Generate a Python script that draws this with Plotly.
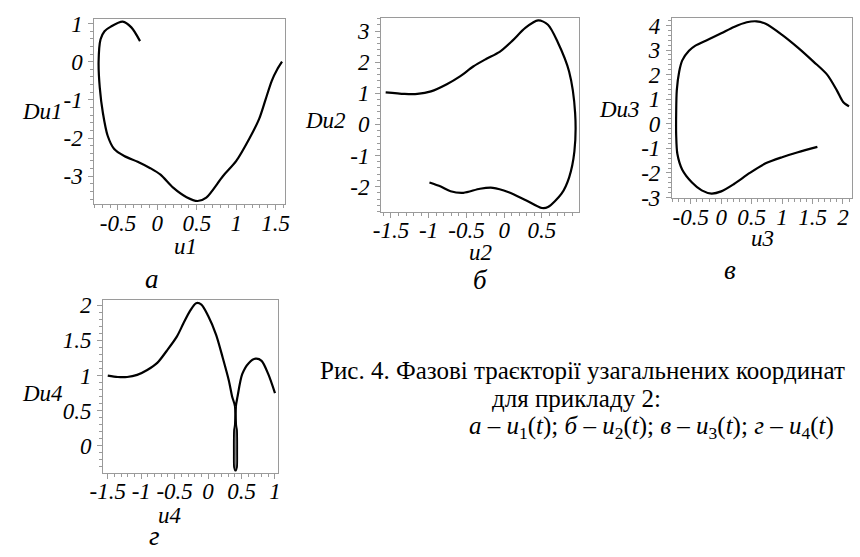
import plotly.graph_objects as go

W, H = 860, 557

# ---- data ----
u1 = [1.58, 1.52, 1.45, 1.37, 1.29, 1.17, 1.00, 0.83, 0.62, 0.51, 0.37, 0.20, 0.04, -0.09, -0.25, -0.42, -0.55, -0.63, -0.69, -0.73, -0.745, -0.72, -0.67, -0.59, -0.44, -0.33, -0.22]
Du1 = [0.00, -0.20, -0.50, -1.00, -1.50, -2.00, -2.60, -3.00, -3.56, -3.65, -3.55, -3.30, -2.96, -2.79, -2.62, -2.47, -2.28, -1.94, -1.35, -0.68, 0.00, 0.59, 0.80, 0.92, 1.05, 0.90, 0.54]

u2 = [-1.57, -1.32, -1.15, -0.97, -0.76, -0.58, -0.41, -0.24, -0.06, 0.11, 0.28, 0.45, 0.58, 0.71, 0.86, 0.94, 0.93, 0.86, 0.76, 0.58, 0.50, 0.28, 0.06, -0.15, -0.32, -0.54, -0.71, -0.84, -0.99]
Du2 = [1.03, 0.98, 0.98, 1.06, 1.29, 1.55, 1.86, 2.10, 2.33, 2.69, 3.10, 3.34, 3.20, 2.64, 1.70, 0.36, -0.88, -1.71, -2.23, -2.66, -2.69, -2.43, -2.18, -2.04, -2.07, -2.20, -2.15, -2.00, -1.87]

u3 = [2.10, 2.00, 1.90, 1.74, 1.52, 1.26, 1.00, 0.73, 0.58, 0.42, 0.21, 0.00, -0.22, -0.43, -0.53, -0.64, -0.69, -0.73, -0.74, -0.74, -0.72, -0.64, -0.48, -0.32, -0.16, 0.00, 0.21, 0.47, 0.73, 1.00, 1.26, 1.58]
Du3 = [0.71, 0.90, 1.36, 2.00, 2.52, 3.10, 3.62, 4.07, 4.17, 4.13, 3.94, 3.68, 3.42, 3.17, 2.97, 2.58, 2.13, 1.36, 0.45, -0.45, -1.23, -1.87, -2.39, -2.71, -2.84, -2.75, -2.45, -2.00, -1.61, -1.36, -1.16, -0.94]

# u4: left arc, narrow spike loop near u4 = 0.41, right arc
u4_left = [-1.50, -1.35, -1.21, -1.06, -0.91, -0.76, -0.62, -0.47, -0.37, -0.27, -0.18, -0.10, 0.00, 0.12, 0.22, 0.31, 0.36]
Du4_left = [1.00, 0.98, 0.98, 1.01, 1.08, 1.18, 1.35, 1.55, 1.74, 1.92, 2.03, 2.01, 1.85, 1.58, 1.25, 0.93, 0.70]
u4_spike = [0.403, 0.403, 0.392, 0.388, 0.392, 0.410, 0.428, 0.432, 0.428, 0.417, 0.415]
Du4_spike = [0.56, 0.30, 0.22, -0.10, -0.30, -0.35, -0.30, -0.10, 0.22, 0.30, 0.56]
u4_right = [0.44, 0.51, 0.61, 0.71, 0.80, 0.90, 1.00]
Du4_right = [0.70, 1.02, 1.18, 1.24, 1.21, 1.02, 0.75]

# tick labels
x1_ticks = [-0.5, 0, 0.5, 1, 1.5]
x1_text = ["-0.5", "0", "0.5", "1", "1.5"]
y1_ticks = [1, 0, -1, -2, -3]
y1_text = ["1", "0", "-1", "-2", "-3"]
x2_ticks = [-1.5, -1, -0.5, 0, 0.5]
x2_text = ["-1.5", "-1", "-0.5", "0", "0.5"]
y2_ticks = [3, 2, 1, 0, -1, -2]
y2_text = ["3", "2", "1", "0", "-1", "-2"]
x3_ticks = [-0.5, 0, 0.5, 1, 1.5, 2]
x3_text = ["-0.5", "0", "0.5", "1", "1.5", "2"]
y3_ticks = [4, 3, 2, 1, 0, -1, -2, -3]
y3_text = ["4", "3", "2", "1", "0", "-1", "-2", "-3"]
x4_ticks = [-1.5, -1, -0.5, 0, 0.5, 1]
x4_text = ["-1.5", "-1", "-0.5", "0", "0.5", "1"]
y4_ticks = [2, 1.5, 1, 0.5, 0]
y4_text = ["2", "1.5", "1", "0.5", "0"]

SERIF = "Liberation Serif"
FRAME = "#9a9a9a"
LINE = dict(color="black", width=2.2, shape="spline", smoothing=0.8)

fig = go.Figure()
series = [(u1, Du1, "x", "y"), (u2, Du2, "x2", "y2"), (u3, Du3, "x3", "y3"),
          (u4_left + u4_spike + u4_right, Du4_left + Du4_spike + Du4_right, "x4", "y4")]
for xs, ys, xa, ya in series:
    fig.add_trace(go.Scatter(x=xs, y=ys, xaxis=xa, yaxis=ya, mode="lines", line=LINE,
                             showlegend=False, hoverinfo="skip"))
# grey interior of the narrow spike loop
fig.add_trace(go.Scatter(x=u4_spike, y=Du4_spike, xaxis="x4", yaxis="y4", mode="lines",
                         fill="toself", fillcolor="#808080",
                         line=dict(color="black", width=1.2, shape="spline"),
                         showlegend=False, hoverinfo="skip"))


def px(x):
    return x / W


def py(y):
    return 1 - y / H


def ital(lst):
    return ["<i>%s</i>" % s for s in lst]


def xax(domain, rng, tv, tt, minor):
    return dict(domain=[px(domain[0]), px(domain[1])], range=rng, tickvals=tv, ticktext=ital(tt),
                showline=True, mirror=True, linecolor=FRAME, linewidth=1,
                ticks="outside", ticklen=5, tickcolor=FRAME, tickwidth=1,
                minor=dict(ticks="outside", ticklen=3, tickcolor=FRAME, dtick=minor, showgrid=False),
                showgrid=False, zeroline=False, fixedrange=True, ticklabelstandoff=-7,
                tickfont=dict(family=SERIF, size=23, color="black"))


def yax(domain, rng, tv, tt, minor, anchor):
    d = xax((0, 1), rng, tv, tt, minor)
    d["domain"] = [py(domain[1]), py(domain[0])]
    d["anchor"] = anchor
    d["ticklabelstandoff"] = 1
    return d


lay = dict(width=W, height=H, margin=dict(l=0, r=0, t=0, b=0),
           font=dict(family=SERIF, size=23, color="black"),
           paper_bgcolor="white", plot_bgcolor="white", showlegend=False)
lay["xaxis"] = xax((83, 278), [-0.8, 1.62], x1_ticks, x1_text, 0.1); lay["xaxis"]["anchor"] = "y"
lay["yaxis"] = yax((12, 204), [-3.73, 1.13], y1_ticks, y1_text, 0.2, "x")
lay["xaxis2"] = xax((376, 578), [-1.63, 0.99], x2_ticks, x2_text, 0.1); lay["xaxis2"]["anchor"] = "y2"
lay["yaxis2"] = yax((11, 212), [-2.81, 3.43], y2_ticks, y2_text, 0.2, "x2")
lay["xaxis3"] = xax((673, 857), [-0.81, 2.15], x3_ticks, x3_text, 0.1); lay["xaxis3"]["anchor"] = "y3"
lay["yaxis3"] = yax((11, 198), [-3.03, 4.32], y3_ticks, y3_text, 0.2, "x3")
lay["xaxis4"] = xax((92, 271), [-1.57, 1.05], x4_ticks, x4_text, 0.1); lay["xaxis4"]["anchor"] = "y4"
lay["yaxis4"] = yax((303, 482), [-0.38, 2.08], y4_ticks, y4_text, 0.1, "x4")
fig.update_layout(**lay)


def txt(x, y, s, size=23):
    fig.add_annotation(x=px(x), y=py(y), xref="paper", yref="paper", text=s, showarrow=False,
                       xanchor="center", yanchor="middle",
                       font=dict(family=SERIF, size=size, color="black"))


# axis titles
txt(30, 108, "<i>Du1</i>")
txt(176, 248, "<i>u1</i>")
txt(319, 118, "<i>Du2</i>")
txt(477, 254, "<i>u2</i>")
txt(619, 106, "<i>Du3</i>")
txt(766, 240, "<i>u3</i>")
txt(30, 400, "<i>Du4</i>")
txt(160, 526, "<i>u4</i>")

# panel letters
txt(142, 282, "<i>а</i>", size=27)
txt(477, 283, "<i>б</i>", size=27)
txt(732, 272, "<i>в</i>", size=27)
txt(145, 548, "<i>г</i>", size=27)

# caption
txt(582, 376, "Рис. 4. Фазові траєкторії узагальнених координат", size=25)
txt(576, 405, "для прикладу 2:", size=25)
txt(652, 435, "<i>а</i> – <i>u</i><sub>1</sub>(<i>t</i>); <i>б</i> – <i>u</i><sub>2</sub>(<i>t</i>); "
              "<i>в</i> – <i>u</i><sub>3</sub>(<i>t</i>); <i>г</i> – <i>u</i><sub>4</sub>(<i>t</i>)", size=25)

fig.write_html("out.html", config={"displayModeBar": False},
               post_script="document.body.style.margin='0';document.body.style.overflow='hidden';")
